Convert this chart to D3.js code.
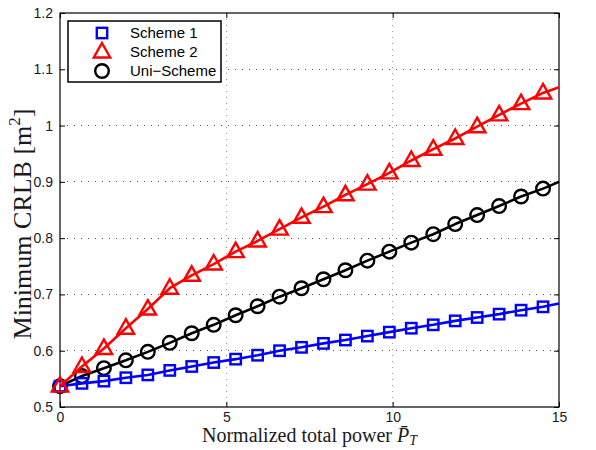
<!DOCTYPE html>
<html>
<head>
<meta charset="utf-8">
<script src="https://cdn.jsdelivr.net/npm/d3@7"></script>
<style>
  html, body { margin: 0; padding: 0; background: #fff; }
  svg { display: block; }
</style>
</head>
<body>
<svg id="chart" width="596" height="450"></svg>
<script>
// ---------------- data ----------------
const xMarkers = [0, 0.66, 1.32, 1.98, 2.64, 3.3, 3.96, 4.62, 5.28, 5.94, 6.6, 7.26,
                  7.92, 8.58, 9.24, 9.9, 10.56, 11.22, 11.88, 12.54, 13.2, 13.86, 14.52];
const xEnd = 15;
const scheme1 = [0.537, 0.542, 0.546, 0.552, 0.557, 0.565, 0.572, 0.579, 0.585, 0.592, 0.600, 0.606,
                 0.613, 0.619, 0.626, 0.633, 0.640, 0.646, 0.653, 0.659, 0.665, 0.672, 0.678];
const scheme1End = 0.684;
const scheme2 = [0.537, 0.572, 0.604, 0.640, 0.674, 0.711, 0.734, 0.754, 0.776, 0.795, 0.816, 0.837,
                 0.856, 0.877, 0.896, 0.916, 0.938, 0.958, 0.977, 0.998, 1.019, 1.039, 1.058];
const scheme2End = 1.068;
const uniScheme = [0.537, 0.555, 0.569, 0.583, 0.598, 0.614, 0.631, 0.646, 0.663, 0.679, 0.696, 0.711,
                   0.727, 0.743, 0.760, 0.776, 0.792, 0.807, 0.825, 0.841, 0.857, 0.874, 0.888];
const uniSchemeEnd = 0.900;
const seriesNames = ["Scheme 1", "Scheme 2", "Uni\u2212Scheme"];
const xTicks = [0, 5, 10, 15];
const yTicks = [0.5, 0.6, 0.7, 0.8, 0.9, 1.0, 1.1, 1.2];
const yTickLabels = ["0.5", "0.6", "0.7", "0.8", "0.9", "1", "1.1", "1.2"];

// ---------------- layout ----------------
const svg = d3.select("#chart");
const L = 60, R = 559, T = 13, B = 407;
const x = d3.scaleLinear().domain([0, 15]).range([L, R]);
const y = d3.scaleLinear().domain([0.5, 1.2]).range([B, T]);

// grid
const grid = svg.append("g");
grid.selectAll(".gx").data(xTicks.slice(1, -1)).enter().append("line")
  .attr("x1", d => x(d)).attr("x2", d => x(d)).attr("y1", T).attr("y2", B)
  .attr("stroke", "#9a9a9a").attr("stroke-width", 1).attr("stroke-dasharray", "1,5")
  .attr("shape-rendering", "crispEdges");
grid.selectAll(".gy").data(yTicks.slice(1, -1)).enter().append("line")
  .attr("x1", L).attr("x2", R).attr("y1", d => y(d)).attr("y2", d => y(d))
  .attr("stroke", "#555").attr("stroke-width", 1).attr("stroke-dasharray", "1,6")
  .attr("shape-rendering", "crispEdges");

// axes (inward ticks on all sides)
const fontTick = "'Liberation Sans', Arial, sans-serif";
const axB = svg.append("g").attr("transform", `translate(0,${B})`)
  .call(d3.axisBottom(x).tickValues(xTicks).tickSizeInner(-5).tickSizeOuter(0).tickPadding(5).tickFormat(d3.format("d")));
const axT = svg.append("g").attr("transform", `translate(0,${T})`)
  .call(d3.axisTop(x).tickValues(xTicks).tickSizeInner(-5).tickSizeOuter(0).tickFormat(""));
const axL = svg.append("g").attr("transform", `translate(${L},0)`)
  .call(d3.axisLeft(y).tickValues(yTicks).tickSizeInner(-5).tickSizeOuter(0).tickPadding(7)
    .tickFormat((d, i) => yTickLabels[i]));
const axR = svg.append("g").attr("transform", `translate(${R},0)`)
  .call(d3.axisRight(y).tickValues(yTicks).tickSizeInner(-5).tickSizeOuter(0).tickFormat(""));
[axB, axT, axL, axR].forEach(a => {
  a.select(".domain").remove();
  a.selectAll("line").attr("stroke", "#000").attr("stroke-width", 1);
  a.selectAll("text").attr("fill", "#1a1a1a").style("font-family", fontTick).style("font-size", "14px");
});
svg.append("rect").attr("x", L).attr("y", T).attr("width", R - L).attr("height", B - T)
  .attr("fill", "none").attr("stroke", "#000").attr("stroke-width", 1.2);

// series
const series = [
  { name: seriesNames[2], vals: uniScheme, end: uniSchemeEnd, color: "#000000", marker: "circle" },
  { name: seriesNames[0], vals: scheme1, end: scheme1End, color: "#0000ff", marker: "square" },
  { name: seriesNames[1], vals: scheme2, end: scheme2End, color: "#ff0000", marker: "triangle" }
];
const line = d3.line().x(d => x(d[0])).y(d => y(d[1]));
const triPath = "M0,-9 L8.2,5.5 L-8.2,5.5 Z";

function drawMarker(g, kind, color) {
  if (kind === "circle") {
    g.append("circle").attr("r", 6.8).attr("fill", "none").attr("stroke", color).attr("stroke-width", 2.4);
  } else if (kind === "square") {
    g.append("rect").attr("x", -5.2).attr("y", -5.2).attr("width", 10.4).attr("height", 10.4)
      .attr("fill", "none").attr("stroke", color).attr("stroke-width", 2.4);
  } else {
    g.append("path").attr("d", triPath).attr("fill", "none").attr("stroke", color)
      .attr("stroke-width", 2.4).attr("stroke-linejoin", "miter");
  }
}

series.forEach(s => {
  const pts = xMarkers.map((xv, i) => [xv, s.vals[i]]).concat([[xEnd, s.end]]);
  const g = svg.append("g");
  g.append("path").datum(pts).attr("d", line).attr("fill", "none")
    .attr("stroke", s.color).attr("stroke-width", 2.6).attr("stroke-linejoin", "round");
  xMarkers.forEach((xv, i) => {
    const m = g.append("g").attr("transform", `translate(${x(xv)},${y(s.vals[i])})`);
    drawMarker(m, s.marker, s.color);
  });
});

// axis labels
const fontLabel = "'Liberation Serif', 'Times New Roman', serif";
const xl = svg.append("text").attr("x", (L + R) / 2).attr("y", 442)
  .attr("text-anchor", "middle").style("font-family", fontLabel).style("font-size", "20px").attr("fill", "#1a1a1a");
xl.append("tspan").text("Normalized total power ");
xl.append("tspan").style("font-style", "italic").text("P\u0304");
xl.append("tspan").style("font-style", "italic").style("font-size", "14px").attr("dy", 3).text("T");

const yl = svg.append("text").attr("transform", `translate(31,224) rotate(-90)`)
  .attr("text-anchor", "middle").style("font-family", fontLabel).style("font-size", "26px").attr("fill", "#1a1a1a");
yl.append("tspan").text("Minimum CRLB [m");
yl.append("tspan").style("font-size", "17px").attr("dy", -11).text("2");
yl.append("tspan").attr("dy", 11).text("]");

// legend
const lg = svg.append("g");
lg.append("rect").attr("x", 68).attr("y", 21).attr("width", 153).attr("height", 61)
  .attr("fill", "#fff").attr("stroke", "#000").attr("stroke-width", 1.5);
const legendOrder = [
  { name: seriesNames[0], color: "#0000ff", marker: "square" },
  { name: seriesNames[1], color: "#ff0000", marker: "triangle" },
  { name: seriesNames[2], color: "#000000", marker: "circle" }
];
legendOrder.forEach((s, i) => {
  const cy = 33 + i * 19;
  const m = lg.append("g").attr("transform", `translate(102,${cy})`);
  drawMarker(m, s.marker, s.color);
  lg.append("text").attr("x", 130).attr("y", cy).attr("dy", "0.35em")
    .style("font-family", fontTick).style("font-size", "15px").attr("fill", "#000").text(s.name);
});
</script>
</body>
</html>
